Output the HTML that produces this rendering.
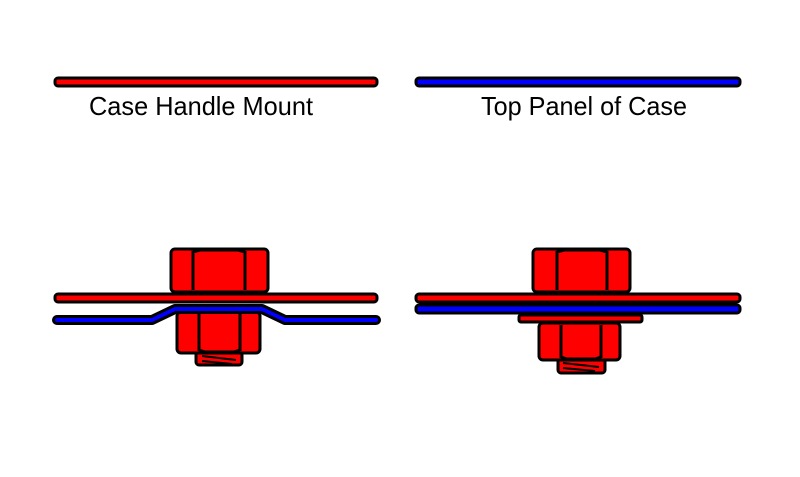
<!DOCTYPE html>
<html><head><style>body{margin:0;background:#fff}svg{display:block}</style></head><body>
<svg width="800" height="477" viewBox="0 0 800 477" xmlns="http://www.w3.org/2000/svg">
<defs>
<g id="hex">
</g>
</defs>
<g stroke="#000" stroke-width="3" stroke-linejoin="round">
<!-- top bars -->
<rect x="55" y="78" width="322" height="8" rx="3" fill="#f00"/>
<rect x="416" y="78" width="324" height="8" rx="3" fill="#00f"/>

<!-- LEFT assembly -->
<!-- head -->
<rect x="171" y="249" width="97" height="43" rx="4" fill="#f00"/>
<path d="M193 251 L193 290 M245 251 L245 290 M193 252 L200 250 L238 250 L245 252" fill="none"/>
<!-- red bar -->
<rect x="55" y="294" width="322" height="8" rx="3" fill="#f00"/>
<!-- thread -->
<rect x="196" y="352" width="46" height="13" rx="3" fill="#f00"/>
<path d="M202 356 L236 360 M202 361 L232 364" fill="none" stroke-width="2"/>
<!-- nut -->
<rect x="177" y="312" width="83" height="41" rx="4" fill="#f00"/>
<path d="M199 314 L199 351 M240 314 L240 351 M199 350 L205 352 L234 352 L240 350" fill="none"/>
<!-- blue bent panel -->
<path d="M57 320 L152 320 L175 309 L262 309 L285 320 L376 320" fill="none" stroke="#000" stroke-width="10" stroke-linecap="round"/>
<path d="M57 320 L152 320 L175 309 L262 309 L285 320 L376 320" fill="none" stroke="#00f" stroke-width="4" stroke-linecap="round"/>

<!-- RIGHT assembly -->
<rect x="533" y="249" width="97" height="43" rx="4" fill="#f00"/>
<path d="M557 251 L557 290 M607 251 L607 290 M557 252 L564 250 L600 250 L607 252" fill="none"/>
<rect x="416" y="294" width="324" height="8" rx="3" fill="#f00"/>
<rect x="416" y="305" width="324" height="8" rx="3" fill="#00f"/>
<rect x="519" y="315" width="123" height="7" rx="2" fill="#f00"/>
<rect x="558" y="358" width="47" height="15" rx="3" fill="#f00"/>
<path d="M563 363 L599 367 M563 368 L595 371" fill="none" stroke-width="2"/>
<rect x="539" y="323" width="81" height="37" rx="4" fill="#f00"/>
<path d="M561 325 L561 358 M601 325 L601 358 M561 357 L567 359 L595 359 L601 357" fill="none"/>
</g>
<g font-family="'Liberation Sans', sans-serif" font-size="26" fill="#000">
<text x="89" y="115" textLength="224" lengthAdjust="spacingAndGlyphs">Case Handle Mount</text>
<text x="481" y="115" textLength="206" lengthAdjust="spacingAndGlyphs">Top Panel of Case</text>
</g>
</svg>
</body></html>
